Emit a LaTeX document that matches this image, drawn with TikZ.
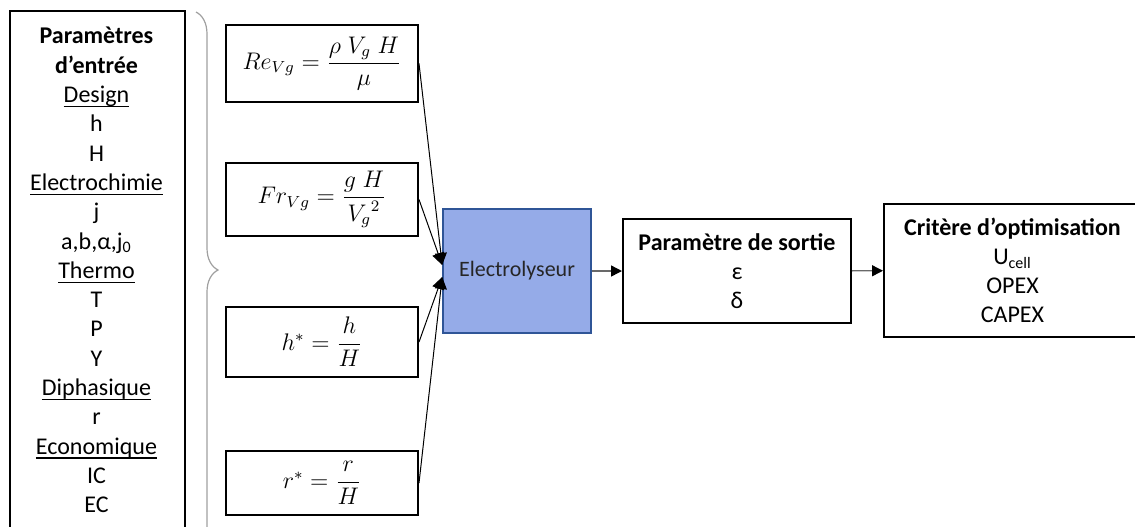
\documentclass[tikz,border=0pt]{standalone}
\usepackage{amsmath}
\usepackage{fontspec}
\setmainfont{Carlito}
\usetikzlibrary{calc,arrows.meta,decorations.pathreplacing}

\definecolor{elecfill}{RGB}{149,171,232}
\definecolor{elecdraw}{RGB}{47,85,151}
\definecolor{bracegray}{RGB}{160,160,160}
\definecolor{linkgray}{RGB}{105,105,105}

% underline at a fixed depth, as in a word processor
\newlength\soulen
\newcommand\souligne[1]{\settowidth\soulen{#1}\rlap{\rule[-2.2pt]{\soulen}{0.6pt}}#1}

\tikzset{
  box/.style={draw, line width=1pt, inner sep=0pt, align=center},
  eqbox/.style={box, minimum width=96pt, font=\fontsize{12}{14}\selectfont},
  link/.style={line width=0.5pt, -{Triangle[length=6pt,width=6pt]}},
  flow/.style={line width=0.7pt, draw=linkgray, -{Triangle[length=5.5pt,width=5.5pt,color=black]}},
}

\begin{document}
\begin{tikzpicture}[x=0.5pt, y=-0.5pt, font=\fontsize{12}{14.5}\selectfont]
    \useasboundingbox (0,0) rectangle (1135,526);

    % input parameters
    \node [box, anchor=north west, minimum width=87.5pt, minimum height=275pt] (entree) at (9,10) {};
    \node [anchor=north, align=center, inner sep=0pt, font=\fontsize{12}{14.65}\selectfont] (entreetxt) at (96.5,27)
      {\textbf{Paramètres}\\ \textbf{d'entrée}\\ \souligne{Design}\\ h\\ H\\ \souligne{Electrochimie}\\ j\\
       a,b,α,j\textsubscript{0}\\ \souligne{Thermo}\\ T\\ P\\ Y\\ \souligne{Diphasique}\\ r\\ \souligne{Economique}\\ IC\\ EC};
    \draw [bracegray, line width=0.6pt, decorate, decoration={brace, amplitude=11pt, aspect=0.4708}] (196,12) -- (196,560);

    % dimensionless numbers
    \node [eqbox, minimum height=38.5pt] (re) at (322,63.5) {$Re_{Vg}=\dfrac{\rho\;V_g\;H}{\mu}$};
    \node [eqbox, minimum height=36.5pt] (fr) at (322,199.5) {$Fr_{Vg}=\dfrac{g\;H}{{V_g}^2}$};
    \node [eqbox, minimum height=35pt] (hs) at (322,342) {$h^{*}=\dfrac{h}{H}$};
    \node [eqbox, minimum height=32pt] (rs) at (322,483) {$r^{*}=\dfrac{r}{H}$};

    % model and outputs
    \node [draw=elecdraw, fill=elecfill, line width=0.8pt, minimum width=74pt, minimum height=62pt,
           text=black!85, font=\fontsize{11}{13}\selectfont] (elec) at (517,271) {Electrolyseur};
    \node [box, minimum width=114pt, minimum height=52pt] (sortie) at (737,271)
      {\textbf{Paramètre de sortie}\\ ε\\ δ};
    \node [box, minimum width=128.5pt, minimum height=66.5pt] (critere) at (1012.5,270.5)
      {\textbf{Critère d'optimisation}\\ U\textsubscript{cell}\\ OPEX\\ CAPEX};

    % arrows
    \coordinate (inhaut) at ($(elec.west)+(0,-6)$);
    \coordinate (inbas) at ($(elec.west)+(0,6)$);
    \draw [link] (re.east) -- (inhaut);
    \draw [link] (fr.east) -- (inhaut);
    \draw [link] (hs.east) -- (inbas);
    \draw [link] (rs.east) -- (inbas);
    \draw [flow] (elec) -- (sortie);
    \draw [flow] (sortie) -- (critere);
\end{tikzpicture}
\end{document}
